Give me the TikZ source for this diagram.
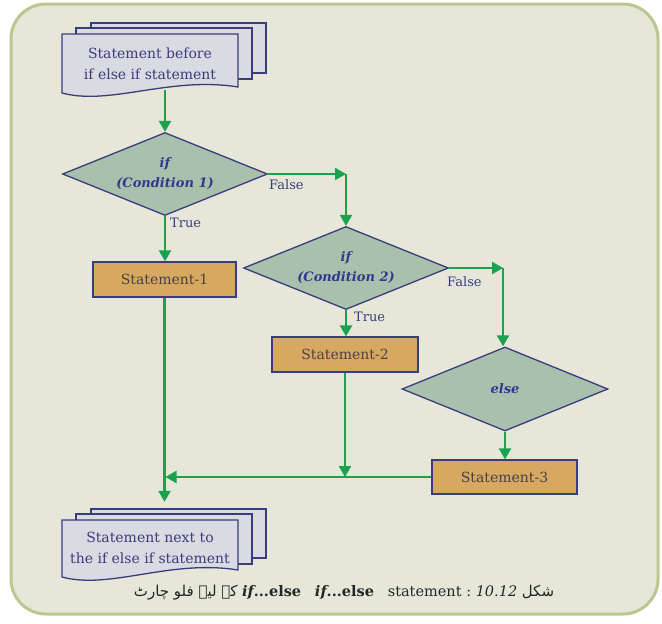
\documentclass[tikz,border=0pt]{standalone}
\usepackage{fontspec}
\setmainfont{DejaVu Serif}
\newfontfamily\urdufont[Script=Arabic]{DejaVu Sans}
\TeXXeTstate=1
\usetikzlibrary{shapes.geometric,arrows.meta}
\definecolor{bgfill}{HTML}{E6E7D9}
\definecolor{bgline}{HTML}{BAC78F}
\definecolor{navy}{HTML}{3A3D7C}
\definecolor{dfill}{HTML}{A9C0AC}
\definecolor{bfill}{HTML}{D7A960}
\definecolor{docfill}{HTML}{D9DAE2}
\definecolor{flow}{HTML}{1BA24E}
\definecolor{ctext}{HTML}{2E3A8E}
\definecolor{btext}{HTML}{4A4048}
\begin{document}
\begin{tikzpicture}[x=1pt,y=-1pt,
 dec/.style={diamond,draw=navy,fill=dfill,line width=1.3pt,inner sep=0pt,aspect=2.5,
   minimum width=205,minimum height=83,font=\bfseries\itshape\fontsize{13}{20}\selectfont,
   text=ctext,align=center},
 stm/.style={rectangle,draw=navy,fill=bfill,line width=1.3pt,minimum width=145,
   minimum height=35,font=\fontsize{14}{17}\selectfont,text=btext},
 arr/.style={draw=flow,line width=2.3pt,-{Triangle[width=12pt,length=11pt]}},
 ln/.style={draw=flow,line width=2.3pt},
 lbl/.style={font=\fontsize{13}{16}\selectfont,text=navy,anchor=west,inner sep=0pt},
 docs/.style={draw=navy,fill=docfill,line width=1.3pt},
 doctext/.style={font=\fontsize{14}{21}\selectfont,text=navy,align=center,minimum width=176}]
\useasboundingbox (0,0) rectangle (662,624);
\fill[white] (0,0) rectangle (662,624);
\draw[bgline,fill=bgfill,line width=3pt,rounded corners=35pt] (11,4) rectangle (658,614);

% top document stack
\path[docs] (91,23) rectangle (266,73);
\path[docs] (76,28) rectangle (252,79);
\path[docs] (62,34) -- (238,34) -- (238,87) .. controls (170,76) and (110,106) .. (62,93) -- cycle;
\node[doctext,minimum height=53] (doc1) at (150,63.5) {Statement before\\if else if statement};

% bottom document stack
\path[docs] (91,509) rectangle (266,558);
\path[docs] (76,514) rectangle (252,564);
\path[docs] (62,520) -- (238,520) -- (238,570) .. controls (170,559) and (110,590) .. (62,577) -- cycle;
\node[doctext,minimum height=56] (doc2) at (150,548) {Statement next to\\the if else if statement};

% decisions
\node[dec] (d1) at (165,174) {if\\(Condition 1)};
\node[dec] (d2) at (346,268) {if\\(Condition 2)};
\node[dec,minimum width=206,minimum height=84] (d3) at (505,389) {else};

% statements
\node[stm,minimum width=143] (s1) at (164.5,279.5) {Statement-1};
\node[stm,minimum width=146] (s2) at (345,354.5) {Statement-2};
\node[stm,minimum height=34] (s3) at (504.5,477) {Statement-3};

% connectors
\draw[arr] (doc1.south -| d1.north) -- (d1.north);
\coordinate (c1) at (d2.north |- d1.east);
\draw[arr] (d1.east) -- (c1);
\draw[arr] (c1) -- (d2.north);
\draw[arr] (d1.south) -- (d1.south |- s1.north);
\coordinate (c2) at (503,268);
\draw[arr] (d2.east) -- (c2);
\draw[arr] (c2) -- (d3.north -| c2);
\draw[arr] (d2.south) -- (d2.south |- s2.north);
\draw[arr] (d3.south) -- (d3.south |- s3.north);
\coordinate (m) at (s1.south |- s3.west);
\draw[arr] (s3.west) -- ([xshift=1pt]m);
\draw[arr] (s2.south) -- (s2.south |- s3.west);
\draw[arr,shorten >=18pt] (s1.south) -- (s1.south |- doc2.north);

% labels
\node[lbl] (f1) at (269,185) {False};
\node[lbl] (t1) at (170,223) {True};
\node[lbl] (f2) at (447,282) {False};
\node[lbl] (t2) at (354,317) {True};

% caption
\node[font=\fontsize{14.5}{17}\selectfont,text=black!85] (cap) at (344,593)
 {\beginR{\urdufont\fontsize{15}{17}\selectfont شکل}\ \beginL\textbf{\textit{if}...else}\ \ \ \textbf{\textit{if}...else}\ \ \ statement :\ \textit{10.12}\endL\ {\urdufont\fontsize{15}{17}\selectfont کے لیے فلو چارٹ}\endR};
\end{tikzpicture}
\end{document}
